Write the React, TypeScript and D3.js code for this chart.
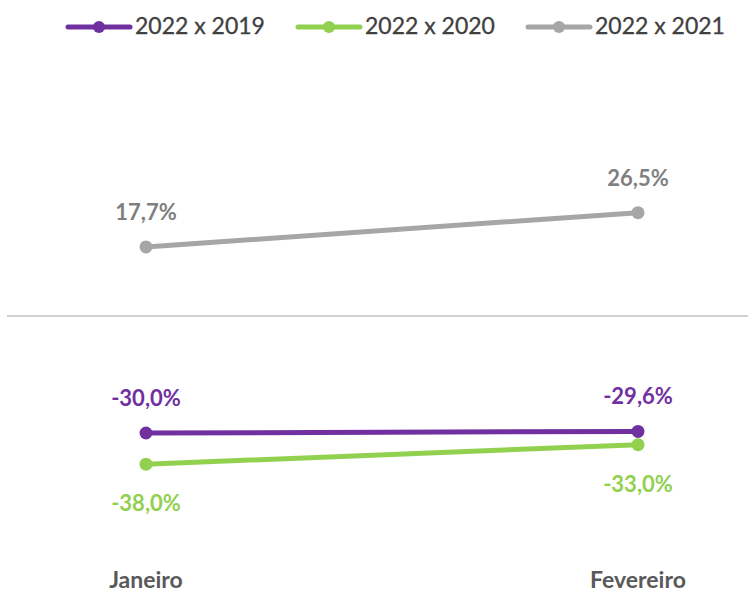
import React from "react";
import * as d3 from "d3";

const categories = ["Janeiro", "Fevereiro"];
const seriesNames = ["2022 x 2019", "2022 x 2020", "2022 x 2021"];
const values2019 = [-30.0, -29.6];
const values2020 = [-38.0, -33.0];
const values2021 = [17.7, 26.5];
const colors = ["#7030A0", "#92D050", "#A6A6A6"];
const labelColors = ["#7030A0", "#92D050", "#7F7F7F"];
const labelPos = ["above", "below", "above"];

const W = 748;
const H = 594;
const FONT = "Lato, 'Open Sans', sans-serif";

export default function App() {
  const x = d3.scalePoint<string>().domain(categories).range([146, 638]);
  const y = d3.scaleLinear().domain([-60, 40]).range([550, 160]);
  const series = [values2019, values2020, values2021];
  const line = d3
    .line<number>()
    .x((_, i) => x(categories[i]) as number)
    .y((d) => y(d));
  const fmt = (v: number) => v.toFixed(1).replace(".", ",") + "%";
  const legendX = [68, 298, 528];

  return (
    <svg
      width={W}
      height={H}
      style={{ position: "absolute", left: 0, top: 0, background: "#fff" }}
      fontFamily={FONT}
    >
      <rect width={W} height={H} fill="#fff" />
      {/* legend */}
      {seriesNames.map((name, i) => (
        <g key={name} transform={`translate(${legendX[i]},27)`}>
          <line x1={0} x2={62} y1={0} y2={0} stroke={colors[i]} strokeWidth={5} strokeLinecap="round" />
          <circle cx={31} cy={0} r={6} fill={colors[i]} />
          <text x={67} y={7} fontSize={23} fill="#404040" stroke="#404040" strokeWidth={0.3}>
            {name}
          </text>
        </g>
      ))}
      {/* zero line */}
      <line x1={7} x2={748} y1={y(0)} y2={y(0)} stroke="#D0D0D0" strokeWidth={2} />
      {/* series */}
      {series.map((vals, si) => (
        <g key={si}>
          <path d={line(vals) || ""} fill="none" stroke={colors[si]} strokeWidth={5} strokeLinecap="round" />
          {vals.map((v, i) => (
            <circle key={i} cx={x(categories[i])} cy={y(v)} r={6.5} fill={colors[si]} />
          ))}
          {vals.map((v, i) => (
            <text
              key={"t" + i}
              x={x(categories[i])}
              y={labelPos[si] === "above" ? y(v) - 27 : y(v) + 47}
              textAnchor="middle"
              fontSize={22}
              fontWeight="bold"
              fill={labelColors[si]}
            >
              {fmt(v)}
            </text>
          ))}
        </g>
      ))}
      {/* category labels */}
      {categories.map((c) => (
        <text
          key={c}
          x={x(c)}
          y={588}
          textAnchor="middle"
          fontSize={23}
          fontWeight="bold"
          fill="#595959"
        >
          {c}
        </text>
      ))}
    </svg>
  );
}
